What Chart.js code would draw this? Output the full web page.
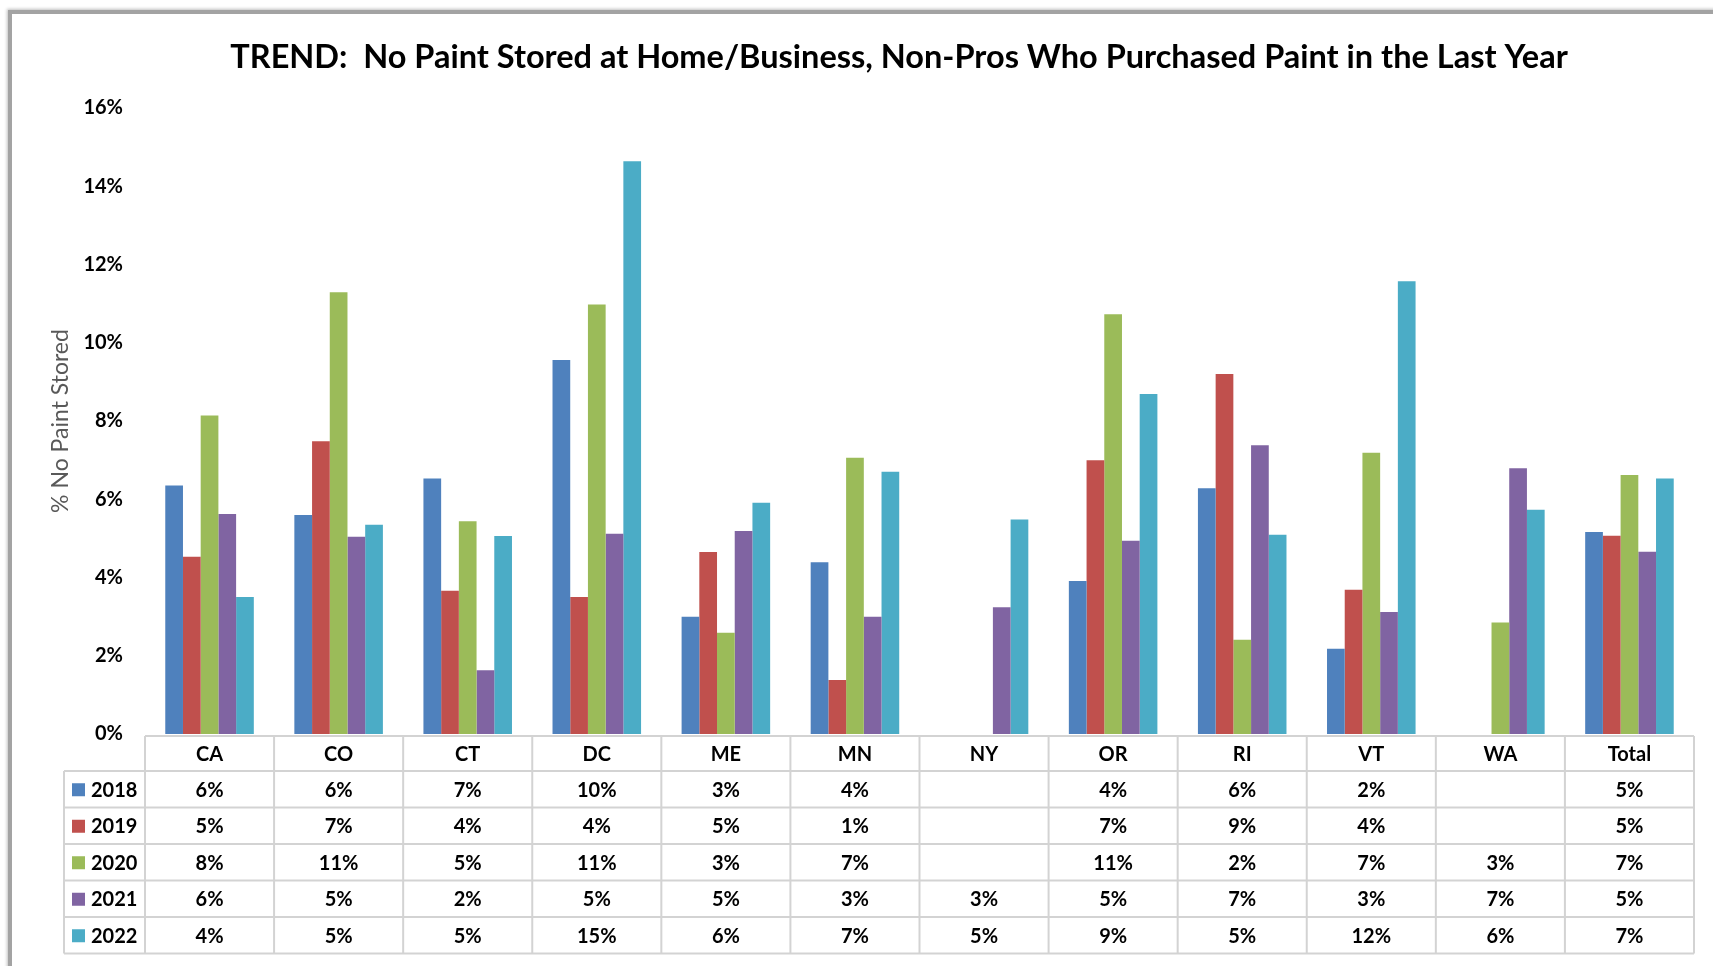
<!DOCTYPE html>
<html>
<head>
<meta charset="utf-8">
<title>TREND: No Paint Stored</title>
<script src="https://cdn.jsdelivr.net/npm/chart.js@4.4.1/dist/chart.umd.min.js"></script>
<style>
    body { margin: 0; background: #ffffff; overflow: hidden; }
    #frame { position: absolute; left: 8px; top: 10px; width: 1760px; height: 1000px;
             border-left: 4px solid #a3a3a3; border-top: 4px solid #a3a3a3;
             box-shadow: -1px -1px 3px rgba(0,0,0,0.25); }
    #chart { position: absolute; left: 0; top: 0; }
</style>
</head>
<body>
<div id="frame"></div>
<canvas id="chart" width="1713" height="966"></canvas>
<script>

    // DATA BEGIN

    const states = ['CA', 'CO', 'CT', 'DC', 'ME', 'MN', 'NY', 'OR', 'RI', 'VT', 'WA', 'Total'];
    const years = ['2018', '2019', '2020', '2021', '2022'];

    const y2018 = [6.35, 5.60, 6.53, 9.56, 3.00, 4.39, null, 3.91, 6.28, 2.18, null, 5.16];
    const y2019 = [4.53, 7.48, 3.66, 3.50, 4.65, 1.38, null, 7.00, 9.20, 3.69, null, 5.07];
    const y2020 = [8.14, 11.29, 5.44, 10.98, 2.59, 7.06, null, 10.73, 2.41, 7.19, 2.85, 6.62];
    const y2021 = [5.62, 5.04, 1.63, 5.12, 5.19, 3.00, 3.24, 4.94, 7.38, 3.12, 6.79, 4.66];
    const y2022 = [3.50, 5.35, 5.06, 14.64, 5.91, 6.70, 5.48, 8.69, 5.09, 11.57, 5.73, 6.53];

    const yTicks = [0, 2, 4, 6, 8, 10, 12, 14, 16];
    const colors = ['#4f81bd', '#c0504d', '#9bbb59', '#8064a2', '#4bacc6'];

    const chartTitle = 'TREND:  No Paint Stored at Home/Business, Non-Pros Who Purchased Paint in the Last Year';
    const axisTitle = '% No Paint Stored';

    // DATA END

    const series = [y2018, y2019, y2020, y2021, y2022];
    const font = 'Lato, "Open Sans", sans-serif';

    // TITLE + DATA TABLE BEGIN

    const tablePlugin = {
        id: 'dataTable',
        afterDraw: function (chart)
        {
            let ctx = chart.ctx;
            let area = chart.chartArea;
            let x = chart.scales.x;
            let colW = (area.right - area.left) / states.length;
            let headTop = area.bottom + 2;
            let headH = 35;
            let rowH = 36.5;
            let legLeft = 64;
            let bodyTop = headTop + headH;
            let bottom = bodyTop + rowH * years.length;
            let i, k;

            ctx.save();

            // title
            ctx.fillStyle = '#000000';
            ctx.font = 'bold 32.5px ' + font;
            ctx.textAlign = 'center';
            ctx.textBaseline = 'alphabetic';
            ctx.fillText(chartTitle, 899, 68);

            // grid
            ctx.strokeStyle = '#d3d3d3';
            ctx.lineWidth = 2;
            ctx.beginPath();
            ctx.moveTo(area.left, headTop);
            ctx.lineTo(area.right, headTop);
            for (k = 0; k <= years.length; k++)
            {
                ctx.moveTo(legLeft, bodyTop + k * rowH);
                ctx.lineTo(area.right, bodyTop + k * rowH);
            }
            for (i = 0; i <= states.length; i++)
            {
                let cx = (i < states.length) ? x.getPixelForValue(i) - colW / 2 : x.getPixelForValue(i - 1) + colW / 2;
                ctx.moveTo(cx, headTop);
                ctx.lineTo(cx, bottom);
            }
            ctx.moveTo(legLeft, bodyTop);
            ctx.lineTo(legLeft, bottom);
            ctx.stroke();

            // header labels
            ctx.fillStyle = '#000000';
            ctx.font = 'bold 20px ' + font;
            ctx.textBaseline = 'middle';
            ctx.textAlign = 'center';
            for (i = 0; i < states.length; i++)
                ctx.fillText(states[i], x.getPixelForValue(i), headTop + headH / 2 + 1);

            // rows
            for (k = 0; k < years.length; k++)
            {
                let cy = bodyTop + k * rowH + rowH / 2 + 1;
                let ds = chart.data.datasets[k];

                ctx.fillStyle = ds.backgroundColor;
                ctx.fillRect(legLeft + 8, cy - 7, 13, 13);

                ctx.fillStyle = '#000000';
                ctx.textAlign = 'left';
                ctx.fillText(ds.label, legLeft + 27, cy);

                ctx.textAlign = 'center';
                for (i = 0; i < states.length; i++)
                {
                    let v = ds.data[i];
                    if (v !== null)
                        ctx.fillText(Math.round(v) + '%', x.getPixelForValue(i), cy);
                }
            }

            ctx.restore();
        }
    };

    // TITLE + DATA TABLE END

    // CHART BEGIN

    let datasets = [];
    for (let k = 0; k < years.length; k++)
    {
        datasets.push({
            label: years[k],
            data: series[k],
            backgroundColor: colors[k],
            borderWidth: 0,
            categoryPercentage: 0.686,
            barPercentage: 1.0
        });
    }

    let ctx = document.getElementById('chart').getContext('2d');
    new Chart(ctx,
    {
        type: 'bar',
        data: {
            labels: states,
            datasets: datasets
        },
        options:
        {
            responsive: false,
            animation: false,
            layout: { padding: { left: 43, right: 19, top: 108, bottom: 232 } },
            plugins:
            {
                legend: { display: false },
                title: { display: false },
                tooltip: { enabled: false }
            },
            scales:
            {
                x:
                {
                    display: false
                },
                y:
                {
                    min: 0,
                    max: 16,
                    afterBuildTicks: function (scale)
                    {
                        scale.ticks = yTicks.map(function (v) { return { value: v }; });
                    },
                    afterFit: function (scale)
                    {
                        scale.width = 102;
                    },
                    grid: { display: false, drawTicks: false },
                    border: { display: false },
                    ticks:
                    {
                        padding: 22,
                        color: '#000000',
                        font: { family: font, size: 20, weight: 'bold' },
                        callback: function (v) { return v + '%'; }
                    },
                    title:
                    {
                        display: true,
                        text: axisTitle,
                        color: '#595959',
                        font: { family: font, size: 23 },
                        padding: { top: 4, bottom: 4 }
                    }
                }
            }
        },
        plugins: [tablePlugin]
    });

    // CHART END

</script>
</body>
</html>
